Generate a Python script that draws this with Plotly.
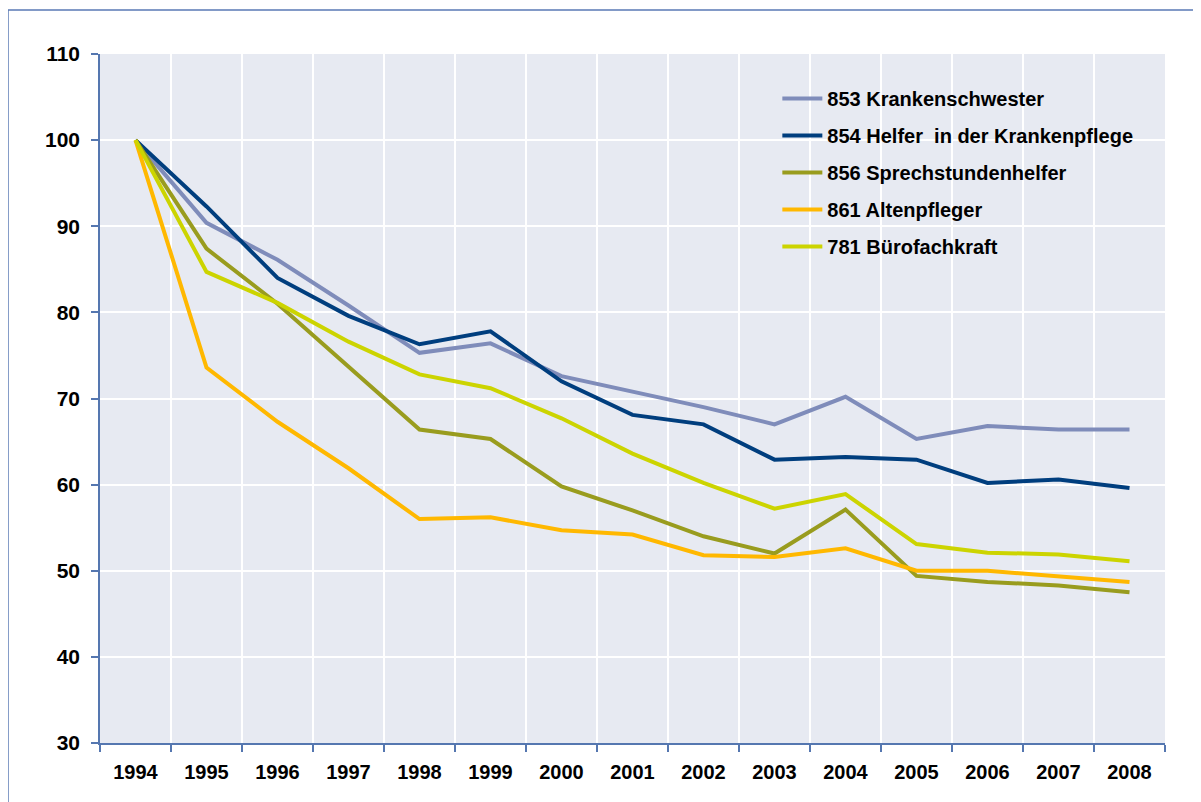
import plotly.graph_objects as go

years = ["1994", "1995", "1996", "1997", "1998", "1999", "2000", "2001",
         "2002", "2003", "2004", "2005", "2006", "2007", "2008"]

krankenschwester = [100, 90.4, 86.1, 80.8, 75.3, 76.4, 72.6, 70.8, 69.0, 67.0, 70.2, 65.3, 66.8, 66.4, 66.4]
helfer_krankenpflege = [100, 92.3, 84.0, 79.6, 76.3, 77.8, 72.0, 68.1, 67.0, 62.9, 63.2, 62.9, 60.2, 60.6, 59.6]
sprechstundenhelfer = [100, 87.4, 81.0, 73.7, 66.4, 65.3, 59.8, 57.0, 54.0, 52.0, 57.1, 49.4, 48.7, 48.3, 47.5]
altenpfleger = [100, 73.6, 67.3, 61.9, 56.0, 56.2, 54.7, 54.2, 51.8, 51.6, 52.6, 50.0, 50.0, 49.4, 48.7]
buerofachkraft = [100, 84.7, 81.1, 76.6, 72.8, 71.2, 67.7, 63.6, 60.2, 57.2, 58.9, 53.1, 52.1, 51.9, 51.1]

series_names = ["853 Krankenschwester", "854 Helfer  in der Krankenpflege",
                "856 Sprechstundenhelfer", "861 Altenpfleger", "781 Bürofachkraft"]
series_values = [krankenschwester, helfer_krankenpflege, sprechstundenhelfer,
                 altenpfleger, buerofachkraft]
series_colors = ["#7F8CBA", "#003E7E", "#999C1E", "#FFB800", "#CCD400"]

y_ticks = [30, 40, 50, 60, 70, 80, 90, 100, 110]

fig = go.Figure()
for name, vals, col in zip(series_names, series_values, series_colors):
    fig.add_trace(go.Scatter(x=years, y=vals, name=name, mode="lines",
                             legendgroup=name,
                             line=dict(color=col, width=4)))

axis_col = "#5577B0"
font_fam = "Liberation Sans, Arial, sans-serif"
fig.update_layout(
    width=1201, height=802,
    margin=dict(l=92, r=44, t=46, b=67),
    paper_bgcolor="white",
    plot_bgcolor="#E7EAF2",
    font=dict(family=font_fam, color="black"),
    legend=dict(x=0.636, y=0.9637, xanchor="left", yanchor="top",
                bgcolor="rgba(0,0,0,0)", traceorder="grouped",
                tracegroupgap=8, itemwidth=40,
                font=dict(size=20, family=font_fam, weight="bold")),
    showlegend=True,
)
fig.update_xaxes(type="category", tickson="boundaries",
                 showgrid=True, gridcolor="white", gridwidth=2,
                 showline=True, linecolor=axis_col, linewidth=1.5,
                 ticks="outside", ticklen=7, tickcolor=axis_col, tickwidth=1.5,
                 ticklabelstandoff=10,
                 tickfont=dict(size=20, weight="bold"), range=[-0.5, 14.5])
fig.update_yaxes(range=[30, 110], tickvals=y_ticks,
                 showgrid=True, gridcolor="white", gridwidth=2,
                 showline=True, linecolor=axis_col, linewidth=1.5,
                 ticks="outside", ticklen=7, tickcolor=axis_col, tickwidth=1.5,
                 ticklabelstandoff=7,
                 tickfont=dict(size=21, weight="bold"), zeroline=False)

# outer chart frame
fig.add_shape(type="rect", xref="paper", yref="paper",
              x0=-0.0864, x1=1.06, y0=-0.12, y1=1.0639,
              line=dict(color="#5A7AB5", width=1.5), fillcolor="rgba(0,0,0,0)",
              layer="below")

fig.write_html("out.html")
